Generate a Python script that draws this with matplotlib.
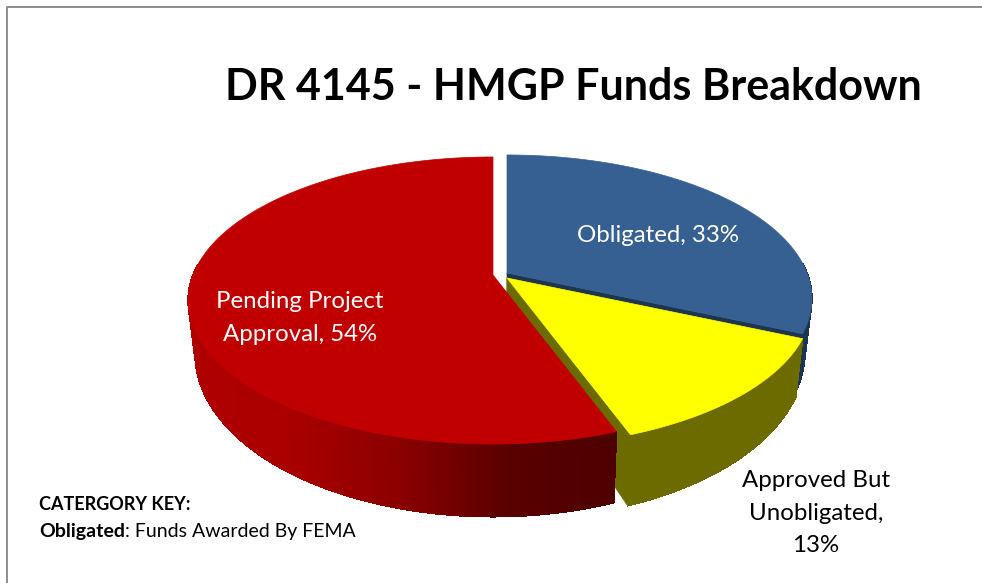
import numpy as np
import matplotlib
matplotlib.use("Agg")
import matplotlib.pyplot as plt
from matplotlib.collections import PolyCollection
from matplotlib.colors import LinearSegmentedColormap, Normalize
from matplotlib.patches import Polygon

plt.rcParams['font.family'] = ['Lato', 'DejaVu Sans']

# slices go clockwise from 12 o'clock
categories = ['Obligated', 'Approved But\nUnobligated', 'Pending Project\nApproval']
shares = [33, 13, 54]
title = 'DR 4145 - HMGP Funds Breakdown'
key_title = 'CATERGORY KEY:'
key_name = 'Obligated'
key_text = ': Funds Awarded By FEMA'

top_colors = ['#376092', '#FFFF00', '#C00000']
side_colors = ['#1D3650', '#6B6B00', None]
apexes = [(507, 273), (507, 278), (493, 275)]

# perspective of the pie, in pixels
K, A, C = 300, 139, 0.1776
DEPTH, SX, SY = 50, 0.977, 1.134


def project(theta):
    """Angle in degrees on the flat pie to x, y offset from the apex."""
    frac = (90 - theta) / 360
    t = np.radians(theta + 5.7 * np.sin(np.pi * frac))
    den = 1 + C * np.sin(t)
    return K * np.cos(t) / den, -A * np.sin(t) / den


def rim(t0, t1, apex, bottom=False):
    th = np.linspace(t0, t1, 300)
    x, y = project(th)
    if bottom:
        return np.column_stack([apex[0] + SX * x, apex[1] + DEPTH + SY * y])
    return np.column_stack([apex[0] + x, apex[1] + y])


fig = plt.figure(figsize=(9.82, 5.83), dpi=100)
ax = fig.add_axes([0, 0, 1, 1])
ax.axis('off')

red_side = LinearSegmentedColormap.from_list(
    'red_side', ['#B00000', '#A80000', '#8A0000', '#5A0000', '#4E0000'])
side_norm = Normalize(188, 616)

angle = 90
for share, apex, top, side in zip(shares, apexes, top_colors, side_colors):
    end = angle - share * 3.6
    top_rim = rim(angle, end, apex)
    low_rim = rim(angle, end, apex, bottom=True)
    # one thin quad per rim step, front part only (the back is hidden anyway)
    front = [i for i in range(len(top_rim) - 1) if top_rim[i, 1] > apex[1] - 10]
    quads = [[top_rim[i], top_rim[i + 1], low_rim[i + 1], low_rim[i]] for i in front]
    if side is not None:
        # the cut face on the clockwise end is the only one facing the viewer
        low_apex = [apex[0], apex[1] + DEPTH]
        cut = np.vstack([apex, top_rim[-1], low_rim[-1], low_apex])
        ax.add_collection(PolyCollection(quads, facecolors=side, edgecolors=side,
                                         linewidths=0.5, antialiaseds=False, zorder=2))
        ax.add_patch(Polygon(cut, closed=True, fc=side, ec=side, lw=0.5, zorder=2))
    else:
        shade = red_side(side_norm(top_rim[front, 0]))
        ax.add_collection(PolyCollection(quads, facecolors=shade, edgecolors=shade,
                                         linewidths=0.5, antialiaseds=False, zorder=2))
    ax.add_patch(Polygon(np.vstack([apex, top_rim]), closed=True, fc=top,
                         ec=top, lw=0.5, zorder=2))
    angle = end

ax.set_xlim(0, 982)
ax.set_ylim(583, 0)

# frame only shows on the left and top
ax.plot([7, 7, 982], [583, 6.5, 6.5], color='#8C8C8C', lw=1.4, zorder=1)

ax.text(573.5, 87, title, fontsize=31, fontweight='bold', color='black',
        ha='center', va='center', zorder=3)

ax.text(658, 235, f'{categories[0]}, {shares[0]}%', fontsize=17.3, color='white',
        ha='center', va='center', zorder=3)
ax.text(300, 318, f'{categories[2]}, {shares[2]}%', fontsize=17.3, color='white',
        ha='center', va='center', linespacing=1.7, zorder=3)
ax.text(816, 513, f'{categories[1]},\n{shares[1]}%', fontsize=17.3, color='black',
        ha='center', va='center', linespacing=1.65, zorder=3)

ax.text(39, 504, key_title, fontsize=13, fontweight='bold', va='center', zorder=3)
name = ax.text(39, 532, key_name, fontsize=14, fontweight='bold', va='center', zorder=3)
ax.annotate(key_text, xy=(1, 0), xycoords=name, va='bottom', fontsize=14, zorder=3)

fig.savefig('out.png', dpi=100)
